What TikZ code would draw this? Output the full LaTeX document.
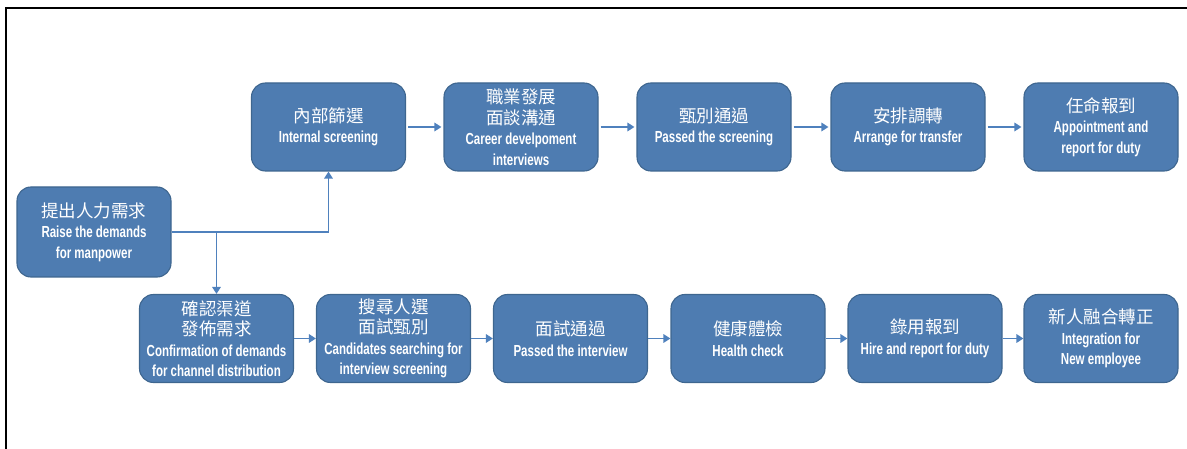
\documentclass[tikz,border=0pt]{standalone}
\usepackage{fontspec}
\usetikzlibrary{arrows.meta}
\newfontfamily\zhfont{Noto Sans CJK TC}
\newfontfamily\enfont[FakeStretch=0.72]{Liberation Sans}
\definecolor{boxfill}{HTML}{4E7CB1}
\definecolor{boxline}{HTML}{3E668F}
\definecolor{connc}{HTML}{4F81BD}
\newcommand{\zh}[1]{{\zhfont\fontsize{17.5}{21}\selectfont #1}}
\newcommand{\en}[1]{{\enfont\bfseries\fontsize{16}{20.5}\selectfont #1}}
\tikzset{
  stepbox/.style={rounded corners=14pt, fill=boxfill, draw=boxline, line width=1.1pt,
    minimum width=154pt, minimum height=88pt, inner sep=0pt, align=center, text=white,
    font=\fontsize{15}{20.5}\selectfont},
  conn/.style={draw=connc, line width=1.6pt, -{Triangle[length=7pt,width=8.5pt]}},
  link/.style={draw=connc, line width=1.6pt}
}
\begin{document}
\begin{tikzpicture}[x=1pt,y=-1pt]
\useasboundingbox (0,0) rectangle (1187,449);
\draw[line width=2pt] (6,449) -- (6,8.5) -- (1187,8.5);
% left
\node[stepbox, minimum height=90pt] (lb) at (94,232) {\zh{提出人力需求}\\\en{Raise the demands}\\\en{for manpower}};
% top row
\node[stepbox] (t1) at (328.5,127) {\zh{內部篩選}\\\en{Internal screening}};
\node[stepbox] (t2) at (521,127) {\zh{職業發展}\\\zh{面談溝通}\\\en{Career develpoment}\\\en{interviews}};
\node[stepbox] (t3) at (714,127) {\zh{甄別通過}\\\en{Passed the screening}};
\node[stepbox] (t4) at (908,127) {\zh{安排調轉}\\\en{Arrange for transfer}};
\node[stepbox] (t5) at (1101,127) {\zh{任命報到}\\\en{Appointment and}\\\en{report for duty}};
% bottom row
\node[stepbox] (b1) at (216.5,338.5) {\zh{確認渠道}\\\zh{發佈需求}\\\en{Confirmation of demands}\\\en{for channel distribution}};
\node[stepbox] (b2) at (393.5,338.5) {\zh{搜尋人選}\\\zh{面試甄別}\\\en{Candidates searching for}\\\en{interview screening}};
\node[stepbox] (b3) at (570.5,338.5) {\zh{面試通過}\\\en{Passed the interview}};
\node[stepbox] (b4) at (748,338.5) {\zh{健康體檢}\\\en{Health check}};
\node[stepbox] (b5) at (925,338.5) {\zh{錄用報到}\\\en{Hire and report for duty}};
\node[stepbox] (b6) at (1101,338.5) {\zh{新人融合轉正}\\\en{Integration for}\\\en{New employee}};
% connectors
\coordinate (j) at (lb.east -| b1.north);
\draw[conn] (lb.east) -| (t1.south);
\draw[conn] (j) -- (b1.north);
\foreach \a/\b in {t1/t2,t2/t3,t3/t4,t4/t5}
  \draw[conn, shorten <=2pt, shorten >=2pt] (\a.east) -- (\b.west);
\foreach \a/\b in {b1/b2,b2/b3,b3/b4,b4/b5,b5/b6}
  \draw[conn] (\a.east) -- (\b.west);
\end{tikzpicture}
\end{document}
